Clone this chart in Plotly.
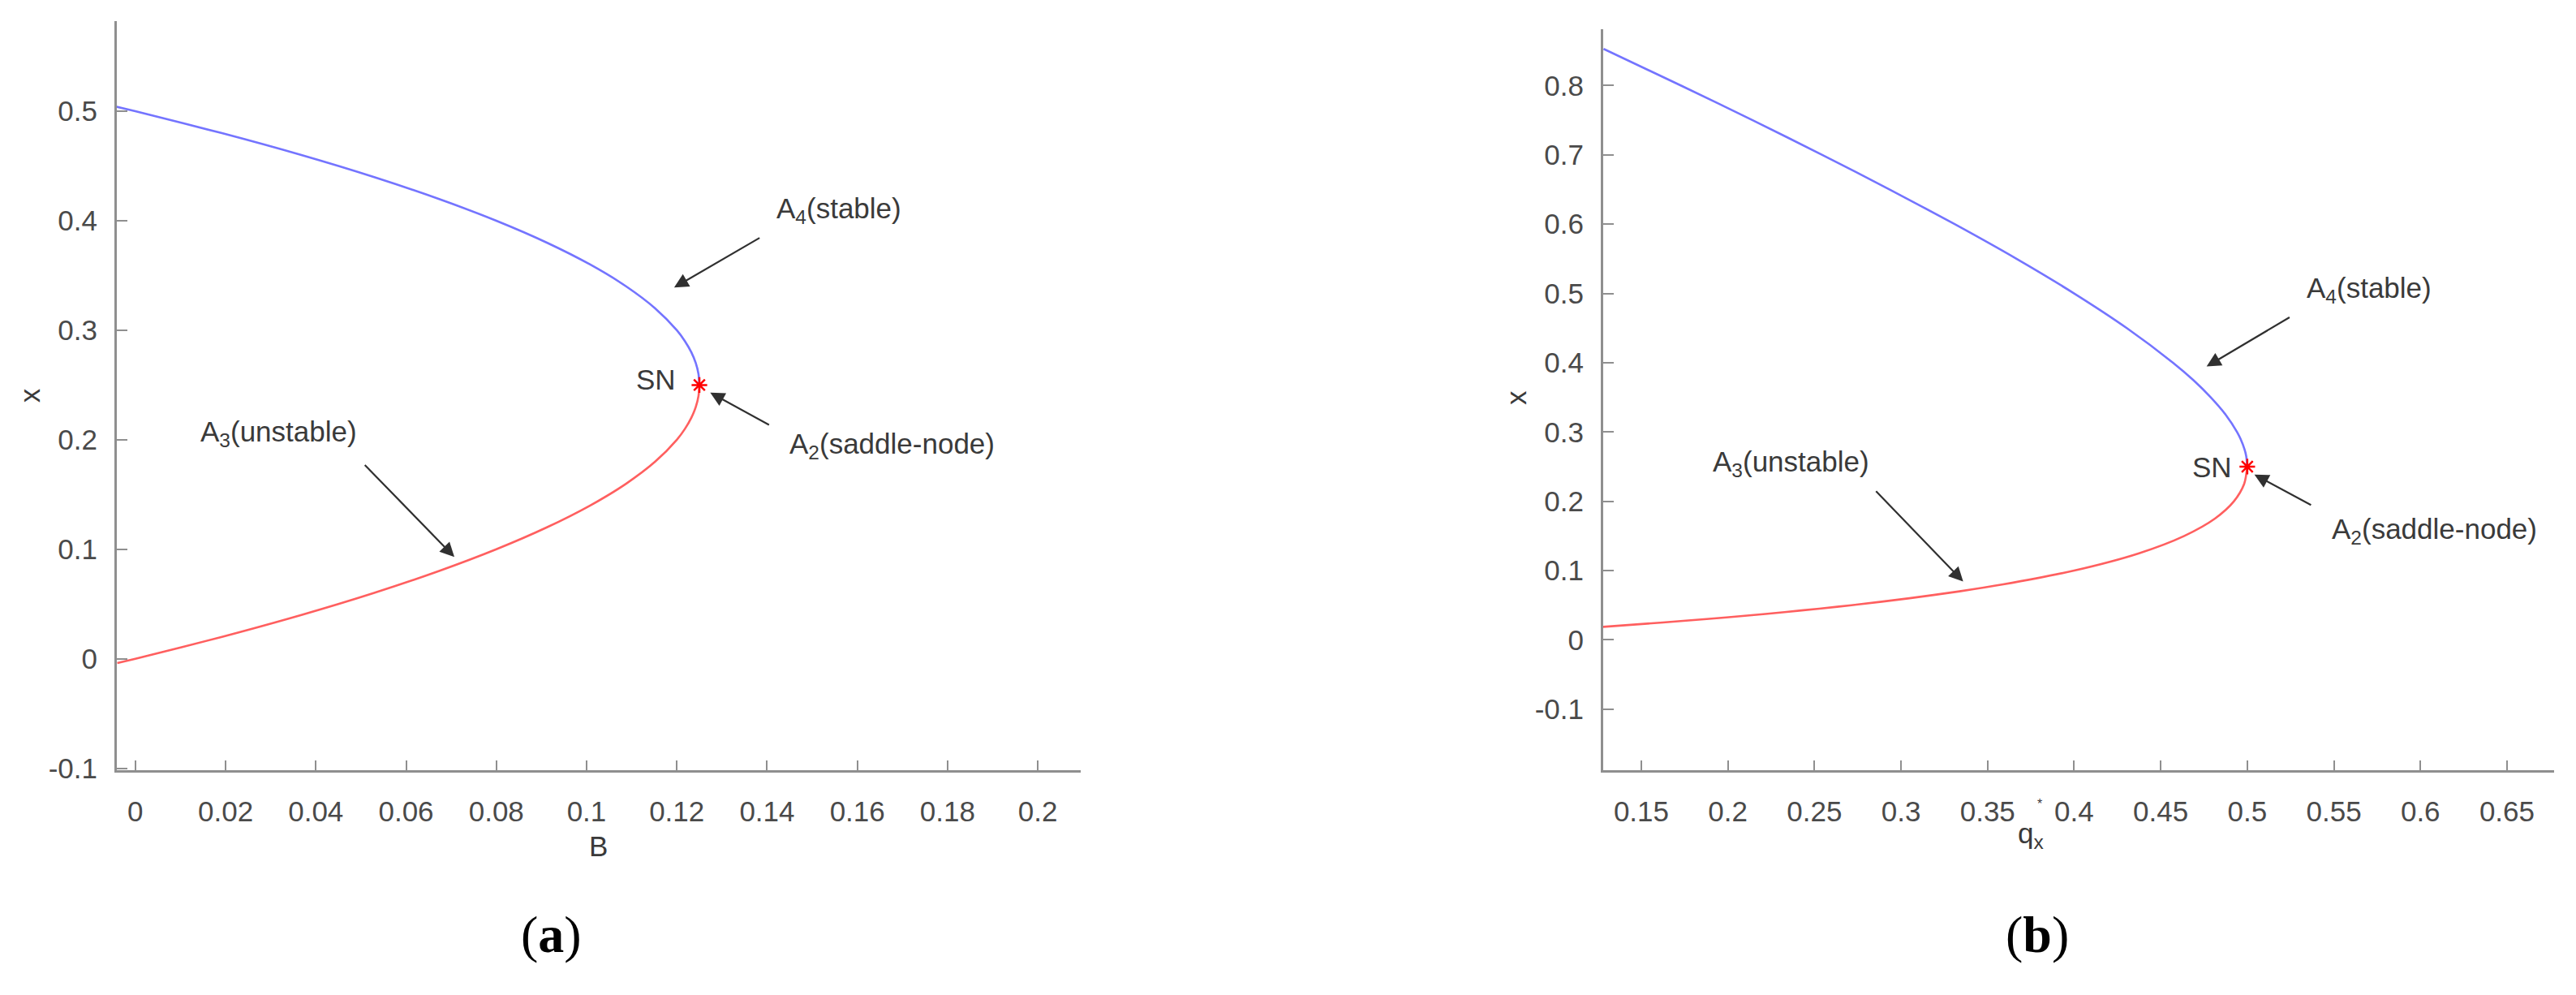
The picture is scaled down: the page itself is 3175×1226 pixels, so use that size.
import plotly.graph_objects as go

# ---------------- data ----------------
# panel (a): parameter B vs state x
a_stable_B = [-0.0050, 0.0000, 0.0192, 0.0368, 0.0528, 0.0672, 0.0800, 0.0912, 0.1008,
              0.1088, 0.1152, 0.1200, 0.1218, 0.1232, 0.1242, 0.1248, 0.1250]
a_stable_x = [0.505, 0.50, 0.48, 0.46, 0.44, 0.42, 0.40, 0.38, 0.36,
              0.34, 0.32, 0.30, 0.29, 0.28, 0.27, 0.26, 0.25]
a_unstable_B = [0.1250, 0.1248, 0.1242, 0.1232, 0.1218, 0.1200, 0.1152, 0.1088, 0.1008,
                0.0912, 0.0800, 0.0672, 0.0528, 0.0368, 0.0192, 0.0000, -0.0040]
a_unstable_x = [0.25, 0.24, 0.23, 0.22, 0.21, 0.20, 0.18, 0.16, 0.14,
                0.12, 0.10, 0.08, 0.06, 0.04, 0.02, 0.00, -0.004]
a_sn = (0.125, 0.25)

# panel (b): parameter q_x* vs state x
b_stable_q = [0.1282, 0.1730, 0.2143, 0.2545, 0.2935, 0.3310, 0.3667, 0.4000, 0.4304,
              0.4571, 0.4688, 0.4789, 0.4875, 0.4941, 0.4961, 0.4984, 0.4994, 0.5000]
b_stable_x = [0.853, 0.80, 0.75, 0.70, 0.65, 0.60, 0.55, 0.50, 0.45,
              0.40, 0.375, 0.35, 0.325, 0.30, 0.29, 0.275, 0.265, 0.25]
b_unstable_q = [0.5000, 0.4982, 0.4923, 0.4813, 0.4636, 0.4375, 0.4000, 0.3590, 0.3338,
                0.3049, 0.2714, 0.2528, 0.2327, 0.2111, 0.1877, 0.1625, 0.1265]
b_unstable_x = [0.25, 0.225, 0.20, 0.175, 0.15, 0.125, 0.10, 0.08, 0.07,
                0.06, 0.05, 0.045, 0.04, 0.035, 0.03, 0.025, 0.0185]
b_sn = (0.5, 0.25)

a_xticks = [0, 0.02, 0.04, 0.06, 0.08, 0.1, 0.12, 0.14, 0.16, 0.18, 0.2]
a_xtext = ["0", "0.02", "0.04", "0.06", "0.08", "0.1", "0.12", "0.14", "0.16", "0.18", "0.2"]
a_yticks = [-0.1, 0, 0.1, 0.2, 0.3, 0.4, 0.5]
a_ytext = ["-0.1", "0", "0.1", "0.2", "0.3", "0.4", "0.5"]
b_xticks = [0.15, 0.2, 0.25, 0.3, 0.35, 0.4, 0.45, 0.5, 0.55, 0.6, 0.65]
b_xtext = ["0.15", "0.2", "0.25", "0.3", "0.35", "0.4", "0.45", "0.5", "0.55", "0.6", "0.65"]
b_yticks = [-0.1, 0, 0.1, 0.2, 0.3, 0.4, 0.5, 0.6, 0.7, 0.8]
b_ytext = ["-0.1", "0", "0.1", "0.2", "0.3", "0.4", "0.5", "0.6", "0.7", "0.8"]

# ---------------- figure ----------------
W, H = 3175, 1226
BLUE = "#7474ff"
RED = "#ff5f5f"
FONT = "Liberation Sans, Arial, Helvetica, sans-serif"
TXT = "#3a3a3a"

fig = go.Figure()
line_kw = dict(shape="spline", smoothing=0.8)
fig.add_trace(go.Scatter(x=a_stable_B, y=a_stable_x, mode="lines",
                         line=dict(color=BLUE, width=2.6, **line_kw), xaxis="x", yaxis="y"))
fig.add_trace(go.Scatter(x=a_unstable_B, y=a_unstable_x, mode="lines",
                         line=dict(color=RED, width=2.6, **line_kw), xaxis="x", yaxis="y"))
fig.add_trace(go.Scatter(x=[a_sn[0]], y=[a_sn[1]], mode="markers",
                         marker=dict(symbol="asterisk-open", size=16, color="red",
                                     line=dict(color="red", width=2.5)), xaxis="x", yaxis="y"))
fig.add_trace(go.Scatter(x=b_stable_q, y=b_stable_x, mode="lines",
                         line=dict(color=BLUE, width=2.6, **line_kw), xaxis="x2", yaxis="y2"))
fig.add_trace(go.Scatter(x=b_unstable_q, y=b_unstable_x, mode="lines",
                         line=dict(color=RED, width=2.6, **line_kw), xaxis="x2", yaxis="y2"))
fig.add_trace(go.Scatter(x=[b_sn[0]], y=[b_sn[1]], mode="markers",
                         marker=dict(symbol="asterisk-open", size=16, color="red",
                                     line=dict(color="red", width=2.5)), xaxis="x2", yaxis="y2"))

axis_common = dict(showline=True, linecolor="#8f8f8f", linewidth=3, showgrid=False,
                   zeroline=False, ticks="inside", tickcolor="#8f8f8f", tickwidth=2,
                   tickfont=dict(family=FONT, size=35, color="#4a4a4a"),
                   tickmode="array", fixedrange=True)

# pixel -> paper helpers for domains
def px(v):
    return v / W

def py(v):
    return 1 - v / H

fig.update_layout(
    width=W, height=H, margin=dict(l=0, r=0, t=0, b=0),
    paper_bgcolor="white", plot_bgcolor="white", showlegend=False,
    xaxis=dict(domain=[px(144), px(1332)], range=[-0.0041, 0.2095],
               tickvals=a_xticks, ticktext=a_xtext, anchor="y", ticklen=12,
               ticklabelstandoff=18, **axis_common),
    yaxis=dict(domain=[py(962), py(26)], range=[-0.1015, 0.5826],
               tickvals=a_yticks, ticktext=a_ytext, anchor="x", ticklen=13,
               ticklabelstandoff=14, **axis_common),
    xaxis2=dict(domain=[px(1976), px(3148)], range=[0.128, 0.6772],
                tickvals=b_xticks, ticktext=b_xtext, anchor="y2", ticklen=12,
                ticklabelstandoff=18, **axis_common),
    yaxis2=dict(domain=[py(962), py(36)], range=[-0.1878, 0.882],
                tickvals=b_yticks, ticktext=b_ytext, anchor="x2", ticklen=13,
                ticklabelstandoff=14, **axis_common),
)

ann = []
tf = dict(family=FONT, size=35, color=TXT)

def label(xr, yr, x, y, text, xanchor="center", size=35, angle=0, font=None, yanchor="middle"):
    ann.append(dict(xref=xr, yref=yr, x=x, y=y, text=text, showarrow=False,
                    xanchor=xanchor, yanchor=yanchor, textangle=angle,
                    font=font or dict(family=FONT, size=size, color=TXT)))

def arrow(xr, yr, tail, head):
    ann.append(dict(xref=xr, yref=yr, axref=xr, ayref=yr, x=head[0], y=head[1],
                    ax=tail[0], ay=tail[1], text="", showarrow=True, arrowhead=2,
                    arrowsize=1.6, arrowwidth=2.2, arrowcolor="#303030", standoff=0))

# panel (a) annotations
label("x", "y", 0.1560, 0.410, "A<sub>4</sub>(stable)")
arrow("x", "y", (0.1386, 0.385), (0.1194, 0.339))
label("x", "y", 0.1153, 0.255, "SN")
arrow("x", "y", (0.1407, 0.213), (0.1274, 0.243))
label("x", "y", 0.1677, 0.195, "A<sub>2</sub>(saddle-node)")
label("x", "y", 0.0318, 0.2057, "A<sub>3</sub>(unstable)")
arrow("x", "y", (0.0506, 0.178), (0.0707, 0.093))

# panel (b) annotations
label("x2", "y2", 0.5704, 0.505, "A<sub>4</sub>(stable)")
arrow("x2", "y2", (0.5251, 0.4665), (0.4765, 0.3946))
label("x2", "y2", 0.4798, 0.2494, "SN")
arrow("x2", "y2", (0.5375, 0.1937), (0.5041, 0.2386))
label("x2", "y2", 0.6080, 0.1575, "A<sub>2</sub>(saddle-node)")
label("x2", "y2", 0.2363, 0.2548, "A<sub>3</sub>(unstable)")
arrow("x2", "y2", (0.2849, 0.2163), (0.3359, 0.0841))

# axis titles
label("paper", "paper", px(36), py(494), "x", angle=-90)
label("paper", "paper", px(1868), py(497), "x", angle=-90)
label("paper", "paper", px(737), py(1057), "B")
label("paper", "paper", px(2503), py(1043), "q<sub>x</sub>")
label("paper", "paper", px(2514), py(1004), "*", size=16)

# panel labels
serif = dict(family="Liberation Serif, Times New Roman, serif", size=64, color="black")
label("paper", "paper", px(679), py(1168), "(<b>a</b>)", font=serif)
label("paper", "paper", px(2511), py(1168), "(<b>b</b>)", font=serif)

fig.update_layout(annotations=ann)

fig.write_html("out.html", config={"displayModeBar": False, "staticPlot": True},
               post_script="document.body.style.margin='0';document.body.style.overflow='hidden';")
